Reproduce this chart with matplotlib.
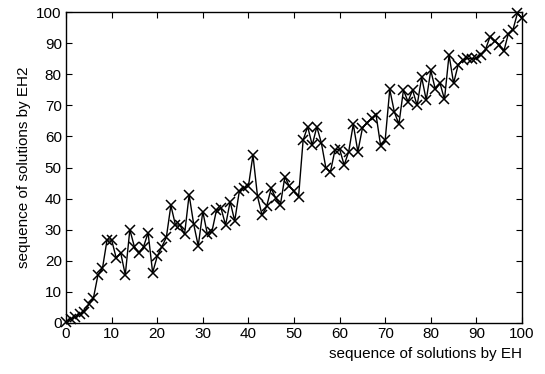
import numpy as np
import matplotlib
matplotlib.use('Agg')
import matplotlib.pyplot as plt

#---------------------------Datos---------------------------------------------
eh2 = [0.4, 1.2, 2.0, 2.8, 3.6, 6.0, 7.9, 15.4, 17.6, 26.7,
       26.7, 21.0, 22.5, 15.5, 30.0, 24.5, 22.4, 24.5, 29.0, 16.2,
       21.4, 24.5, 27.5, 37.8, 31.5, 31.5, 28.5, 41.2, 31.8, 24.8,
       35.8, 28.6, 29.4, 36.3, 36.9, 31.5, 39.0, 32.8, 42.3, 43.4,
       43.9, 54.0, 40.7, 34.7, 37.5, 43.3, 40.1, 37.9, 47.0, 43.9,
       42.3, 40.6, 58.8, 63.1, 57.2, 63.1, 57.9, 49.8, 48.7, 55.7,
       55.9, 50.8, 55.1, 63.9, 55.1, 62.6, 64.4, 65.8, 66.9, 57.0,
       58.9, 75.1, 67.9, 63.9, 74.9, 71.2, 74.9, 70.0, 79.0, 71.7,
       81.2, 75.1, 77.2, 71.9, 86.2, 77.1, 83.0, 84.6, 85.1, 85.0,
       85.1, 86.2, 88.0, 92.1, 90.7, 89.5, 87.3, 93.0, 94.2, 99.6,
       98.0]
eh = np.arange(len(eh2))
xticks = [0, 10, 20, 30, 40, 50, 60, 70, 80, 90, 100]
yticks = [0, 10, 20, 30, 40, 50, 60, 70, 80, 90, 100]
#------------------------------------------------------------------------------

plt.rcParams['font.family'] = ['Liberation Sans', 'DejaVu Sans']
fig = plt.figure(figsize=(5.45, 3.74), dpi=100)
ax = fig.add_axes([66/545, 1-323/374, (522-66)/545, (323-12)/374])

ax.plot(eh, eh2, color='black', linewidth=1.0, marker='x',
        markersize=7, markeredgewidth=1.1, clip_on=False)

ax.set_xlim(0, 100)
ax.set_ylim(0, 100)
ax.set_xticks(xticks)
ax.set_yticks(yticks)
ax.tick_params(direction='in', top=True, right=True, labelsize=11,
               length=4, width=0.8, pad=3)
for s in ax.spines.values():
    s.set_linewidth(1.0)

ax.set_xlabel('sequence of solutions by EH', fontsize=11, loc='right')
ax.set_ylabel('sequence of solutions by EH2', fontsize=11)

fig.savefig('out.png', dpi=100)
